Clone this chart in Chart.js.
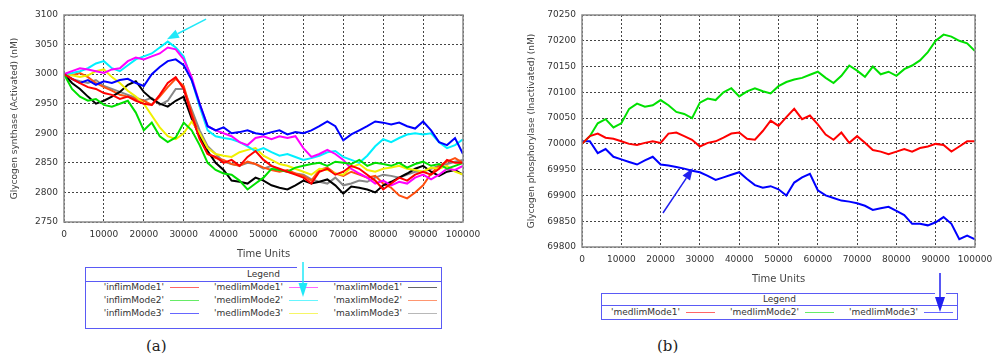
<!DOCTYPE html>
<html>
<head>
<meta charset="utf-8">
<script src="https://cdn.jsdelivr.net/npm/chart.js@4.4.1/dist/chart.umd.min.js"></script>
<style>
  body { margin: 0; background: #fff; width: 993px; height: 358px; position: relative; overflow: hidden; font-family: "DejaVu Sans", sans-serif; }
  #wrapA { position: absolute; left: 0; top: 0; width: 480px; height: 262px; }
  #wrapB { position: absolute; left: 500px; top: 0; width: 493px; height: 290px; }
  .legend { position: absolute; width: 357px; border: 1px solid #5a5af5; box-sizing: border-box; font-size: 9px; color: #333; }
  .legend .head { text-align: center; border-bottom: 1px solid #5a5af5; }
  .item { position: absolute; width: 113px; height: 12px; }
  .item span { position: absolute; right: 35px; top: 0; line-height: 12px; white-space: nowrap; }
  .item i { position: absolute; right: 0; top: 6px; width: 29px; height: 0; border-top: 1.5px solid; opacity: 0.6; }
  .caption { position: absolute; top: 337px; font-family: "DejaVu Serif", serif; font-size: 15px; color: #222; }
  svg { position: absolute; left: 0; top: 0; pointer-events: none; }
</style>
</head>
<body>
<div id="wrapA"><canvas id="chartA"></canvas></div>
<div id="wrapB"><canvas id="chartB"></canvas></div>
<div class="legend" id="legA" style="left:85px;top:267px;height:62px;"><div class="head" style="height:13px;line-height:13px;">Legend</div></div>
<div class="legend" id="legB" style="left:601px;top:293px;height:27px;"><div class="head" style="height:11px;line-height:11px;">Legend</div></div>
<div class="caption" style="left:146px;">(a)</div>
<div class="caption" style="left:657px;">(b)</div>
<svg width="993" height="358">
  <rect x="297" y="266" width="11" height="3" fill="#fff"/>
  <line x1="303" y1="262" x2="303" y2="285" stroke="#20e8f8" stroke-width="1.5"/>
  <polygon points="298.5,283 307.5,283 303,297" fill="#20e8f8"/>
  <rect x="935" y="292" width="11" height="3" fill="#fff"/>
  <line x1="940" y1="273" x2="940" y2="299" stroke="#2020f0" stroke-width="1.5"/>
  <polygon points="935,297 945,297 940,312" fill="#2020f0"/>
</svg>
<script>
// time points shared by all runs
const times = [0, 2000, 4000, 6000, 8000, 10000, 12000, 14000, 16000, 18000,
  20000, 22000, 24000, 26000, 28000, 30000, 32000, 34000, 36000, 38000,
  40000, 42000, 44000, 46000, 48000, 50000, 52000, 54000, 56000, 58000,
  60000, 62000, 64000, 66000, 68000, 70000, 72000, 74000, 76000, 78000,
  80000, 82000, 84000, 86000, 88000, 90000, 92000, 94000, 96000, 98000,
  100000];

// (a) glycogen synthase, activated
const inflimMode1 = [3000,2992,2985,2978,2975,2968,2965,2958,2962,2955,
  2950,2948,2965,2985,2995,2975,2930,2890,2865,2860,
  2850,2855,2845,2860,2870,2855,2845,2840,2835,2830,
  2825,2815,2835,2840,2830,2835,2845,2840,2830,2820,
  2805,2815,2825,2820,2830,2835,2830,2840,2855,2850,
  2850];
const inflimMode2 = [3000,2975,2962,2955,2958,2948,2945,2950,2955,2935,
  2905,2918,2895,2885,2893,2918,2905,2880,2850,2838,
  2832,2830,2820,2805,2815,2825,2840,2838,2835,2842,
  2845,2848,2850,2845,2852,2850,2848,2855,2845,2850,
  2848,2845,2850,2842,2848,2852,2845,2848,2840,2845,
  2850];
const inflimMode3 = [3000,2992,2985,2990,2982,2988,2985,2990,2992,2985,
  2980,3000,3012,3022,3025,3015,2990,2950,2912,2905,
  2910,2900,2902,2905,2900,2898,2902,2905,2898,2902,
  2900,2905,2912,2920,2912,2888,2898,2905,2912,2920,
  2918,2915,2918,2912,2908,2920,2905,2885,2880,2892,
  2865];
const medlimMode1 = [3000,3005,3010,3008,3005,3002,3008,3010,3022,3028,
  3025,3030,3035,3045,3042,3025,2995,2950,2912,2905,
  2900,2895,2885,2880,2892,2895,2890,2895,2892,2895,
  2875,2860,2865,2872,2865,2855,2840,2832,2825,2815,
  2820,2812,2818,2815,2825,2830,2822,2830,2840,2838,
  2845];
const medlimMode2 = [3000,3002,3005,3010,3018,3022,3010,3005,3015,3025,
  3030,3035,3045,3055,3045,3030,2990,2945,2905,2895,
  2892,2890,2885,2878,2870,2875,2868,2862,2865,2860,
  2855,2858,2862,2868,2870,2860,2855,2850,2862,2878,
  2890,2885,2892,2898,2900,2898,2900,2885,2875,2880,
  2890];
const medlimMode3 = [3000,2998,2995,2998,3005,3008,2995,2985,2972,2962,
  2950,2930,2910,2895,2890,2900,2920,2900,2875,2865,
  2862,2860,2868,2872,2875,2862,2855,2848,2845,2840,
  2835,2830,2840,2838,2832,2830,2842,2848,2838,2835,
  2840,2842,2845,2840,2838,2835,2842,2840,2845,2835,
  2830];
const maxlimMode1 = [3000,2985,2975,2962,2950,2955,2962,2970,2982,2988,
  2970,2958,2950,2945,2955,2962,2925,2895,2870,2850,
  2838,2820,2818,2815,2825,2820,2812,2808,2805,2812,
  2820,2815,2818,2822,2812,2798,2810,2808,2805,2800,
  2812,2818,2825,2832,2840,2845,2835,2828,2835,2838,
  2830];
const maxlimMode2 = [3000,2998,3002,2995,2985,2978,2972,2965,2962,2958,
  2955,2948,2962,2978,2992,2980,2935,2895,2865,2858,
  2855,2848,2845,2852,2848,2842,2838,2835,2838,2832,
  2828,2820,2838,2842,2832,2828,2835,2830,2825,2828,
  2815,2808,2795,2790,2800,2812,2832,2845,2852,2858,
  2850];
const maxlimMode3 = [3000,2992,2988,2985,2990,2980,2975,2970,2965,2960,
  2955,2960,2948,2955,2975,2975,2940,2905,2878,2865,
  2852,2848,2845,2850,2848,2840,2845,2838,2835,2832,
  2830,2822,2818,2815,2825,2812,2815,2820,2818,2825,
  2830,2828,2825,2830,2835,2835,2840,2845,2848,2852,
  2855];

// (b) glycogen phosphorylase, inactivated
const phosMode1 = [70000,70015,70020,70012,70010,70005,70000,69998,70002,70005,
  70002,70020,70022,70015,70008,69995,70002,70005,70012,70020,
  70022,70010,70008,70025,70045,70035,70052,70068,70048,70055,
  70038,70018,70008,70022,70002,70015,70002,69988,69985,69980,
  69985,69990,69985,69992,69995,70000,69998,69985,69995,70005,
  70005];
const phosMode2 = [70000,70015,70040,70048,70032,70040,70068,70078,70072,70075,
  70085,70075,70062,70058,70050,70080,70088,70085,70100,70108,
  70092,70102,70108,70102,70098,70112,70120,70125,70128,70134,
  70140,70128,70118,70132,70152,70142,70130,70150,70135,70140,
  70132,70145,70152,70162,70178,70200,70212,70208,70200,70195,
  70180];
const phosMode3 = [70005,70005,69982,69990,69975,69970,69965,69960,69968,69975,
  69960,69958,69955,69952,69948,69945,69938,69930,69935,69940,
  69945,69932,69920,69915,69918,69912,69900,69925,69935,69942,
  69910,69900,69895,69890,69888,69885,69880,69872,69875,69878,
  69870,69862,69845,69845,69842,69848,69858,69845,69815,69822,
  69815];

const namesA = ["'inflimMode1'", "'inflimMode2'", "'inflimMode3'",
  "'medlimMode1'", "'medlimMode2'", "'medlimMode3'",
  "'maxlimMode1'", "'maxlimMode2'", "'maxlimMode3'"];
const seriesA = [inflimMode1, inflimMode2, inflimMode3, medlimMode1, medlimMode2, medlimMode3,
  maxlimMode1, maxlimMode2, maxlimMode3];
const colorsA = ["#ff0000", "#00e000", "#0000ff", "#ff00ff", "#00f0ff", "#f0f000",
  "#000000", "#ff5010", "#888888"];

const namesB = ["'medlimMode1'", "'medlimMode2'", "'medlimMode3'"];
const seriesB = [phosMode1, phosMode2, phosMode3];
const colorsB = ["#ff0000", "#00e000", "#0000ff"];

Chart.defaults.font.family = '"DejaVu Sans", sans-serif';
Chart.defaults.animation = false;

function makeDatasets(names, series, colors) {
  return names.map((n, i) => ({
    label: n,
    data: times.map((t, k) => ({ x: t, y: series[i][k] })),
    borderColor: colors[i],
    borderWidth: 2,
    pointRadius: 0,
    tension: 0,
    fill: false
  }));
}

function drawArrow(ctx, x1, y1, x2, y2, color) {
  const ang = Math.atan2(y2 - y1, x2 - x1);
  const len = 12, half = 4.5;
  const bx = x2 - len * Math.cos(ang), by = y2 - len * Math.sin(ang);
  ctx.save();
  ctx.strokeStyle = color;
  ctx.fillStyle = color;
  ctx.lineWidth = 1.5;
  ctx.beginPath();
  ctx.moveTo(x1, y1);
  ctx.lineTo(bx, by);
  ctx.stroke();
  ctx.beginPath();
  ctx.moveTo(x2, y2);
  ctx.lineTo(bx + half * Math.sin(ang), by - half * Math.cos(ang));
  ctx.lineTo(bx - half * Math.sin(ang), by + half * Math.cos(ang));
  ctx.closePath();
  ctx.fill();
  ctx.restore();
}

// plot frame + annotation arrow (given in data units)
const framePlugin = {
  id: 'frame',
  afterDraw(chart, args, opts) {
    const { ctx, chartArea: a, scales } = chart;
    ctx.save();
    ctx.strokeStyle = '#8a8a8a';
    ctx.lineWidth = 1.5;
    ctx.strokeRect(a.left, a.top, a.right - a.left, a.bottom - a.top);
    ctx.restore();
    if (opts.arrow) {
      const r = opts.arrow;
      drawArrow(ctx,
        scales.x.getPixelForValue(r.from[0]), scales.y.getPixelForValue(r.from[1]),
        scales.x.getPixelForValue(r.to[0]), scales.y.getPixelForValue(r.to[1]), r.color);
    }
  }
};

function makeScales(ymin, ymax, yTitle, yWidth, yTitlePad, xHeight, xTitlePad) {
  return {
    x: {
      type: 'linear', min: 0, max: 100000,
      ticks: { stepSize: 10000, color: '#333', font: { size: 9 }, padding: 7, maxRotation: 0, autoSkip: false,
        callback: v => String(v) },
      grid: { color: '#444', drawTicks: false },
      border: { display: false, dash: [2, 2] },
      title: { display: true, text: 'Time Units', color: '#444', font: { size: 10 }, padding: { top: 0, bottom: xTitlePad } },
      afterFit(s) { s.height = xHeight; s.paddingLeft = 0; s.paddingRight = 0; }
    },
    y: {
      min: ymin, max: ymax,
      ticks: { stepSize: 50, color: '#333', font: { size: 9 }, padding: 6, callback: v => String(v) },
      grid: { color: '#444', drawTicks: false },
      border: { display: false, dash: [2, 2] },
      title: { display: true, text: yTitle, color: '#444', font: { size: 9 }, padding: { top: yTitlePad, bottom: 0 } },
      afterFit(s) { s.width = yWidth; s.paddingTop = 0; s.paddingBottom = 0; }
    }
  };
}

new Chart(document.getElementById('chartA'), {
  type: 'line',
  data: { datasets: makeDatasets(namesA, seriesA, colorsA) },
  options: {
    responsive: true, maintainAspectRatio: false,
    layout: { padding: { top: 15, right: 17, left: 0, bottom: 0 } },
    plugins: {
      legend: { display: false }, tooltip: { enabled: false },
      frame: { arrow: { from: [35600, 3093], to: [25800, 3059], color: '#20e8f8' } }
    },
    scales: makeScales(2750, 3100, 'Glycogen synthase (Activated) (nM)', 64, 9.6, 40, 2)
  },
  plugins: [framePlugin]
});

new Chart(document.getElementById('chartB'), {
  type: 'line',
  data: { datasets: makeDatasets(namesB, seriesB, colorsB) },
  options: {
    responsive: true, maintainAspectRatio: false,
    layout: { padding: { top: 15, right: 18, left: 0, bottom: 0 } },
    plugins: {
      legend: { display: false }, tooltip: { enabled: false },
      frame: { arrow: { from: [20600, 69866], to: [28240, 69953], color: '#2020f0' } }
    },
    scales: makeScales(69800, 70250, 'Glycogen phosphorylase (Inactivated) (nM)', 82, 26.6, 43, 5)
  },
  plugins: [framePlugin]
});

// boxed legends below each plot
function fillLegend(id, names, colors, rowTops) {
  const box = document.getElementById(id);
  names.forEach((n, i) => {
    const col = Math.floor(i / rowTops.length), row = i % rowTops.length;
    const it = document.createElement('div');
    it.className = 'item';
    it.style.left = (col * 119) + 'px';
    it.style.top = rowTops[row] + 'px';
    it.innerHTML = '<span>' + n + '</span><i style="border-color:' + colors[i] + '"></i>';
    box.appendChild(it);
  });
}
fillLegend('legA', namesA, colorsA, [13, 26, 39]);
fillLegend('legB', namesB, colorsB, [12]);
</script>
</body>
</html>
